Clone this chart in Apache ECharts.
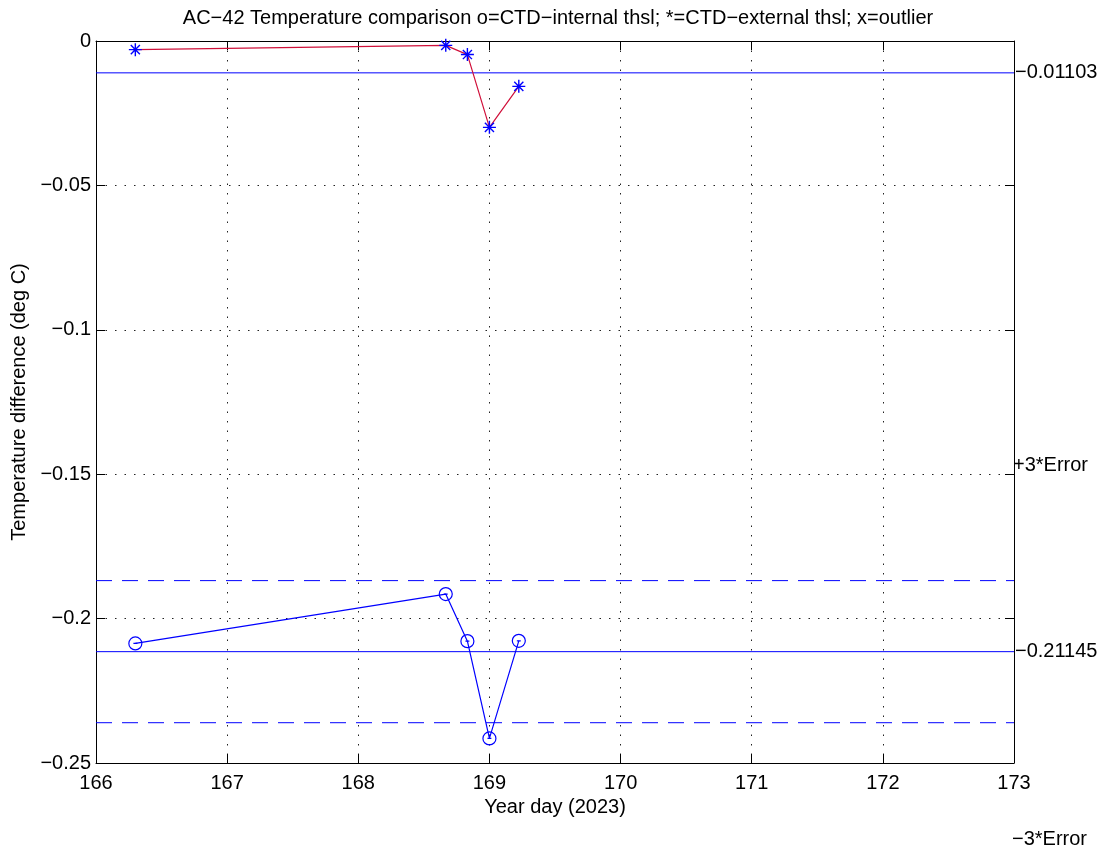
<!DOCTYPE html>
<html>
<head>
<meta charset="utf-8">
<script src="https://cdn.jsdelivr.net/npm/echarts@6/dist/echarts.min.js"></script>
<style>
  html, body { margin: 0; padding: 0; background: #fff; }
  #chart { width: 1108px; height: 854px; }
</style>
</head>
<body>
<div id="chart"></div>
<script>
// year days of the comparison casts
const days = [166.30, 168.667, 168.832, 169.0, 169.224];
// CTD - external thermosalinograph (*)
const externalDiff = [-0.0030, -0.0015, -0.0047, -0.0299, -0.0157];
// CTD - internal thermosalinograph (o)
const internalDiff = [-0.2086, -0.1915, -0.2078, -0.2415, -0.2077];
const externalMean = -0.01103;
const internalMean = -0.21145;
const internalErrBand = [-0.18685, -0.23605];
const meanLabels = ["\u22120.01103", "\u22120.21145"];
const xTicks = [166, 173, 1];
const yTicks = [-0.25, 0, 0.05];

const font = "'Liberation Sans', Arial, sans-serif";
const fs = 20;
const blue = "#0000ff";
const starPath = "path://M0,5L10,5M5,0L5,10M1.5,1.5L8.5,8.5M8.5,1.5L1.5,8.5";
const circlePath = "path://M1,6A5,5,0,1,1,11,6A5,5,0,1,1,1,6ZM4.5,6L7.5,6";

const fmtY = (v) => {
  if (Math.abs(v) < 1e-9) return "0";
  const s = String(Math.round(Math.abs(v) * 1000) / 1000);
  return (v < 0 ? "\u2212" : "") + s;
};

// horizontal reference line spanning the whole x axis
const hLine = (value, type, label) => ({
  type: "line",
  data: [[xTicks[0], value], [xTicks[1], value]],
  symbol: "none",
  silent: true,
  lineStyle: { color: blue, width: 1, type: type },
  endLabel: label
    ? { show: true, distance: 1, formatter: label, fontFamily: font, fontSize: fs, color: "#000" }
    : { show: false },
  z: 3,
});

const myChart = echarts.init(document.getElementById("chart"));

const gridLine = { show: true, lineStyle: { color: "#222", type: [1.5, 8], width: 1 } };
const boxLine = { show: true, onZero: false, lineStyle: { color: "#000", width: 1 } };
const inTick = { show: true, inside: true, length: 9, lineStyle: { color: "#000" } };

myChart.setOption({
  animation: false,
  title: {
    text: "AC\u221242 Temperature comparison o=CTD\u2212internal thsl; *=CTD\u2212external thsl; x=outlier",
    left: 553,
    textAlign: "center",
    top: 3,
    textStyle: { fontFamily: font, fontSize: fs, fontWeight: "normal", color: "#000" },
  },
  grid: { left: 96, right: 94, top: 41, bottom: 91 },
  xAxis: [
    {
      type: "value",
      min: xTicks[0],
      max: xTicks[1],
      interval: xTicks[2],
      position: "bottom",
      name: "Year day (2023)",
      nameLocation: "middle",
      nameGap: 30,
      nameTextStyle: { fontFamily: font, fontSize: fs, color: "#000" },
      axisLine: boxLine,
      axisTick: inTick,
      axisLabel: { fontFamily: font, fontSize: fs, color: "#000", margin: 10 },
      splitLine: gridLine,
    },
    {
      type: "value",
      min: xTicks[0],
      max: xTicks[1],
      interval: xTicks[2],
      position: "top",
      axisLine: boxLine,
      axisTick: inTick,
      axisLabel: { show: false },
      splitLine: { show: false },
    },
  ],
  yAxis: [
    {
      type: "value",
      min: yTicks[0],
      max: yTicks[1],
      interval: yTicks[2],
      position: "left",
      name: "Temperature difference (deg C)",
      nameLocation: "middle",
      nameGap: 67,
      nameTextStyle: { fontFamily: font, fontSize: fs, color: "#000" },
      axisLine: boxLine,
      axisTick: inTick,
      axisLabel: { fontFamily: font, fontSize: fs, color: "#000", margin: 5, formatter: fmtY },
      splitLine: gridLine,
    },
    {
      type: "value",
      min: yTicks[0],
      max: yTicks[1],
      interval: yTicks[2],
      position: "right",
      axisLine: boxLine,
      axisTick: inTick,
      axisLabel: { show: false },
      splitLine: { show: false },
    },
  ],
  series: [
    hLine(externalMean, "solid", meanLabels[0]),
    hLine(internalMean, "solid", meanLabels[1]),
    hLine(internalErrBand[0], [16, 10], null),
    hLine(internalErrBand[1], [16, 10], null),
    {
      name: "external",
      type: "line",
      data: days.map((d, i) => [d, externalDiff[i]]),
      lineStyle: { color: "#d0103a", width: 1.2 },
      symbol: starPath,
      symbolSize: 13,
      itemStyle: { color: "transparent", borderColor: blue, borderWidth: 1.4 },
      z: 5,
    },
    {
      name: "internal",
      type: "line",
      data: days.map((d, i) => [d, internalDiff[i]]),
      lineStyle: { color: blue, width: 1.2 },
      symbol: circlePath,
      symbolSize: 13,
      itemStyle: { color: "transparent", borderColor: blue, borderWidth: 1.2 },
      z: 5,
    },
  ],
  graphic: [
    {
      type: "text",
      left: 1013,
      top: 455,
      style: { text: "+3*Error", font: fs + "px " + font, fill: "#000" },
    },
    {
      type: "text",
      left: 1012,
      top: 829,
      style: { text: "\u22123*Error", font: fs + "px " + font, fill: "#000" },
    },
  ],
});
</script>
</body>
</html>
